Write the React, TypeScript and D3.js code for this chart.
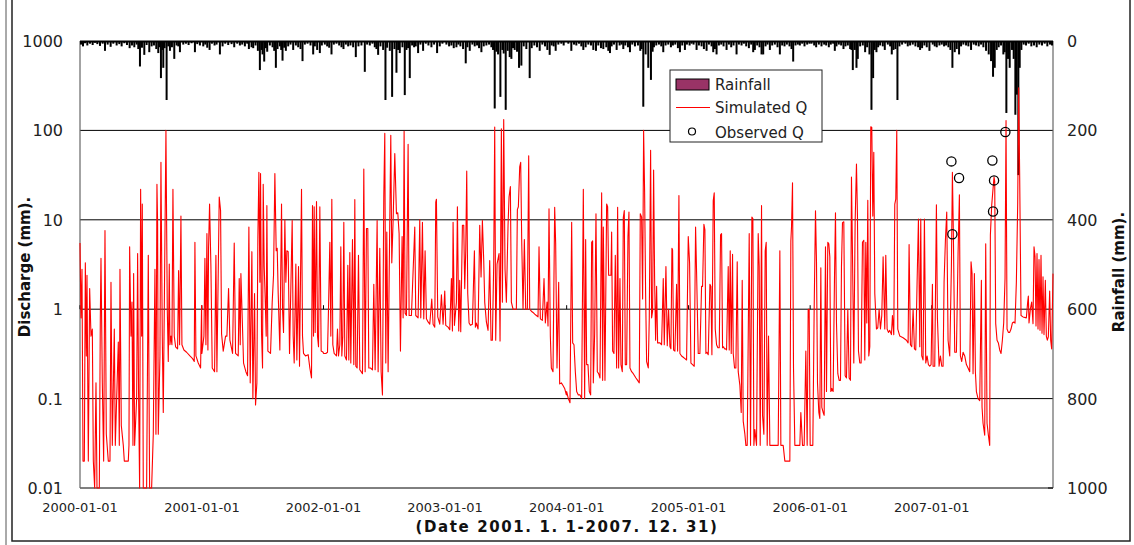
import * as d3 from 'd3';

// chart frame
const W = 1134;
const H = 545;
const plot = { left: 80, right: 1053, top: 41, bottom: 488 };

const xTickLabels = ['2000-01-01', '2001-01-01', '2002-01-01', '2003-01-01', '2004-01-01', '2005-01-01', '2006-01-01', '2007-01-01'];
const qTicks = [0.01, 0.1, 1, 10, 100, 1000];
const qTickLabels = ['0.01', '0.1', '1', '10', '100', '1000'];
const rainTicks = [0, 200, 400, 600, 800, 1000];

// simulated discharge (mm) : [day since 2000-01-01, value]
const q2000: [number, number][] = [
  [0, 5.5], [3, 0.8], [6, 2.8], [9, 0.02], [13, 0.02], [16, 3.3], [19, 0.3], [21, 2.4], [25, 0.02], [29, 1.7], [33, 0.5], [37, 0.6], [40, 0.02], [44, 0.01], [48, 0.15], [51, 0.01], [58, 0.01], [61, 0.8], [63, 3.7], [67, 0.15], [71, 0.02], [75, 7.6], [79, 0.04], [85, 0.02], [90, 0.02], [93, 2.0], [97, 0.03], [103, 0.6], [106, 0.03], [115, 0.43], [118, 0.03], [120, 2.8], [124, 0.05], [130, 0.03], [133, 0.02], [145, 0.02], [147, 0.03], [149, 5], [153, 0.5], [156, 1.2], [159, 0.03], [161, 2.5], [164, 0.03], [170, 0.1], [173, 4.2], [176, 0.1], [179, 0.01], [182, 22], [185, 0.5], [187, 15], [190, 0.01], [200, 0.01], [205, 4], [209, 0.01], [215, 0.01], [220, 0.04], [225, 2.8], [228, 0.04], [231, 25], [233, 9], [235, 0.04], [240, 0.3], [243, 44], [247, 0.5], [250, 0.07], [253, 1.0], [258, 100], [262, 1.0], [265, 0.26], [268, 3.2], [270, 0.4], [273, 0.5], [276, 0.4], [279, 22], [283, 0.5], [287, 0.38], [293, 0.36], [296, 2.7], [299, 0.4], [303, 11], [306, 0.4], [312, 0.35], [320, 0.33], [330, 0.3], [338, 0.28], [343, 0.26], [345, 5.6], [348, 0.3], [355, 0.25], [362, 0.22], [365, 1.1],
];
const q2001: [number, number][] = [
  [366, 0.32], [372, 0.5], [375, 3.7], [378, 0.4], [381, 7], [384, 0.35], [386, 5], [389, 15], [393, 3], [397, 0.22], [404, 0.2], [408, 4], [411, 0.2], [418, 18], [422, 12.7], [425, 0.53], [430, 0.34], [437, 0.5], [441, 0.5], [446, 1.7], [450, 0.45], [458, 0.32], [463, 5.5], [467, 0.32], [475, 0.3], [478, 2.2], [481, 0.4], [483, 2.5], [487, 0.8], [491, 0.25], [498, 0.2], [503, 0.18], [507, 8.3], [511, 0.15], [516, 4.4], [519, 0.1], [524, 1.5], [527, 0.085], [531, 0.15], [534, 6.4], [537, 34], [540, 2], [542, 33], [545, 0.53], [548, 0.22], [550, 25], [553, 3], [556, 1.3], [559, 0.5], [561, 14.4], [564, 0.34], [572, 0.32], [577, 1.2], [581, 2.4], [585, 33], [589, 4.5], [592, 4.8], [595, 1.5], [600, 0.35], [605, 15], [608, 1], [611, 0.55], [615, 10], [618, 2], [621, 4.5], [625, 4.4], [629, 0.32], [637, 9.8], [640, 0.5], [643, 0.25], [648, 3.2], [651, 0.27], [656, 3], [659, 0.23], [665, 22], [668, 0.5], [671, 0.32], [677, 0.3], [685, 0.31], [690, 0.22], [695, 0.17], [698, 14.4], [701, 0.5], [703, 14], [706, 0.55], [710, 16], [713, 0.5], [716, 0.38], [720, 14], [724, 0.34], [730, 0.33],
];
const q2002: [number, number][] = [
  [731, 0.32], [738, 0.32], [743, 0.33], [746, 1.0], [750, 5.6], [753, 0.5], [756, 17], [759, 0.4], [763, 0.32], [770, 0.3], [773, 0.6], [776, 0.3], [780, 0.4], [783, 5], [786, 0.3], [789, 0.5], [792, 9.4], [795, 0.3], [800, 0.27], [804, 3.1], [807, 0.27], [810, 4.3], [813, 0.25], [818, 6], [822, 0.24], [825, 16.8], [828, 0.23], [832, 0.22], [836, 4], [840, 0.21], [844, 0.2], [848, 0.19], [852, 37], [856, 0.2], [860, 8], [864, 8], [867, 0.22], [872, 0.22], [878, 0.21], [882, 1.9], [886, 0.21], [892, 9.8], [895, 0.2], [900, 4.8], [904, 0.2], [908, 0.11], [912, 18.7], [915, 93], [918, 0.25], [921, 7.3], [925, 0.2], [930, 9.8], [933, 88], [936, 3.3], [940, 9.8], [945, 55], [950, 11.7], [954, 12], [958, 7], [962, 0.34], [967, 6.5], [970, 0.8], [973, 98], [976, 0.9], [980, 0.85], [985, 70], [988, 0.85], [995, 0.85], [1005, 8.3], [1008, 0.85], [1015, 0.8], [1020, 10], [1023, 0.8], [1028, 9.4], [1032, 0.78], [1036, 4.5], [1040, 0.78], [1045, 0.72], [1050, 0.68], [1056, 1.3], [1060, 0.68], [1065, 0.63], [1068, 15.8], [1070, 17], [1074, 0.82], [1080, 0.68], [1085, 1.45], [1090, 0.68], [1095, 1.6],
];
const q2003: [number, number][] = [
  [1098, 0.66], [1105, 0.63], [1110, 0.59], [1115, 2.2], [1118, 0.57], [1120, 9.4], [1124, 0.66], [1130, 1.2], [1133, 14], [1137, 0.57], [1140, 2.1], [1143, 0.56], [1148, 8.7], [1152, 8.7], [1155, 1.7], [1158, 4.5], [1161, 35], [1164, 1.5], [1168, 0.7], [1172, 0.66], [1178, 0.68], [1184, 4.5], [1187, 0.63], [1190, 0.7], [1195, 0.6], [1200, 8.7], [1204, 2.3], [1208, 9.8], [1212, 3.5], [1215, 1.2], [1220, 0.72], [1225, 0.58], [1230, 3.5], [1234, 0.45], [1238, 0.45], [1242, 3.2], [1245, 109], [1248, 0.45], [1252, 3.2], [1258, 4.2], [1261, 0.44], [1265, 104], [1268, 1.2], [1272, 132], [1276, 2.8], [1280, 1.2], [1285, 8.7], [1288, 18], [1292, 23.6], [1295, 1.2], [1300, 1.0], [1305, 1.0], [1310, 1.0], [1313, 13], [1316, 14], [1320, 39], [1323, 44], [1326, 6], [1330, 1.0], [1334, 6], [1338, 1.0], [1343, 1.0], [1347, 52], [1350, 1.0], [1355, 0.95], [1360, 0.92], [1365, 0.88], [1370, 0.85], [1375, 0.82], [1378, 5], [1382, 0.78], [1388, 0.75], [1393, 2.2], [1397, 0.7], [1402, 1.2], [1405, 0.65], [1408, 13.3], [1412, 0.5], [1415, 0.22], [1420, 0.2], [1425, 13.8], [1428, 5.4], [1432, 0.22], [1437, 2], [1440, 0.146], [1445, 0.15], [1450, 0.14], [1455, 0.13], [1460, 0.11],
];
const q2004: [number, number][] = [
  [1461, 0.12], [1466, 0.1], [1471, 0.09], [1476, 9.4], [1479, 0.42], [1483, 0.4], [1487, 0.2], [1491, 0.12], [1496, 0.11], [1501, 0.11], [1506, 0.1], [1511, 22], [1515, 0.1], [1518, 6], [1521, 0.24], [1525, 0.24], [1529, 0.12], [1533, 0.11], [1536, 5.6], [1539, 5.8], [1541, 0.15], [1545, 0.53], [1549, 11.7], [1553, 0.2], [1557, 0.19], [1561, 0.17], [1566, 20], [1569, 0.16], [1571, 8.3], [1576, 0.16], [1581, 15], [1584, 14], [1587, 2.4], [1591, 2.4], [1594, 2.4], [1596, 7.3], [1599, 0.34], [1603, 0.32], [1607, 4], [1611, 0.22], [1614, 13.8], [1617, 0.22], [1621, 2.2], [1624, 0.24], [1628, 0.2], [1631, 10.6], [1634, 12.7], [1637, 0.24], [1641, 0.24], [1645, 6.5], [1648, 12.2], [1651, 0.22], [1656, 0.2], [1661, 0.19], [1669, 0.17], [1674, 0.16], [1679, 0.15], [1682, 11.7], [1686, 10.7], [1689, 1.3], [1692, 100], [1695, 20.5], [1698, 1.5], [1701, 0.26], [1706, 0.22], [1709, 0.8], [1713, 60], [1716, 0.8], [1719, 0.95], [1722, 36], [1725, 2.2], [1728, 0.45], [1731, 1.8], [1734, 0.42], [1741, 0.42], [1746, 0.4], [1751, 2.2], [1754, 0.4], [1759, 3], [1763, 0.39], [1767, 1.0], [1771, 0.38], [1774, 0.36], [1777, 4.8], [1779, 4.6], [1782, 0.35], [1786, 0.34], [1791, 1.9], [1794, 0.34], [1798, 18.7], [1801, 0.32], [1806, 0.3], [1811, 0.29], [1816, 0.28], [1821, 0.27], [1826, 6.5],
];
const q2005: [number, number][] = [
  [1830, 3.3], [1834, 0.25], [1839, 0.24], [1844, 0.23], [1848, 8.3], [1851, 2.6], [1856, 0.32], [1861, 0.32], [1866, 1.8], [1869, 1.8], [1873, 8.9], [1876, 7.7], [1879, 0.32], [1882, 0.33], [1886, 0.31], [1891, 1.9], [1894, 1.8], [1897, 0.31], [1901, 16.4], [1904, 20], [1907, 0.6], [1911, 0.4], [1915, 0.37], [1919, 0.37], [1923, 6.8], [1926, 7], [1929, 0.37], [1932, 0.38], [1935, 0.36], [1938, 0.36], [1941, 0.35], [1946, 3], [1949, 0.35], [1952, 4.5], [1955, 0.32], [1959, 4.1], [1961, 0.32], [1965, 0.22], [1969, 0.22], [1973, 3.4], [1976, 0.2], [1981, 0.14], [1985, 0.07], [1988, 2.1], [1991, 0.056], [1996, 0.04], [1999, 0.03], [2003, 0.03], [2009, 7], [2013, 0.03], [2017, 10.7], [2020, 10.3], [2023, 0.03], [2026, 0.045], [2031, 0.03], [2036, 7], [2039, 3], [2042, 0.03], [2046, 14.4], [2049, 0.065], [2053, 0.04], [2057, 4.5], [2060, 5.6], [2063, 0.03], [2067, 0.5], [2071, 0.03], [2081, 0.03], [2091, 0.03], [2096, 0.03], [2101, 4.5], [2104, 0.03], [2111, 0.03], [2116, 0.02], [2126, 0.02], [2131, 0.02], [2134, 5.8], [2136, 8.3], [2139, 26], [2142, 0.22], [2146, 0.03], [2156, 0.03], [2161, 0.03], [2164, 0.07], [2169, 0.03], [2174, 0.03], [2179, 0.34], [2183, 0.03], [2186, 1.0], [2189, 1.0],
];
const q2006: [number, number][] = [
  [2192, 0.03], [2200, 0.03], [2204, 1.0], [2208, 12.6], [2211, 3.4], [2214, 0.15], [2218, 0.07], [2221, 0.06], [2224, 2.9], [2227, 0.08], [2231, 0.07], [2234, 0.065], [2238, 5], [2241, 0.12], [2245, 5.6], [2248, 5.4], [2251, 3.85], [2254, 0.12], [2257, 0.13], [2261, 0.12], [2265, 2.2], [2268, 12], [2271, 0.7], [2275, 0.19], [2279, 0.16], [2283, 0.16], [2286, 3], [2289, 9.3], [2293, 9.5], [2297, 0.18], [2301, 0.17], [2305, 1], [2309, 0.17], [2313, 0.16], [2316, 30], [2319, 4.2], [2323, 0.25], [2327, 9.3], [2331, 42], [2334, 11], [2337, 0.34], [2341, 0.25], [2345, 0.25], [2349, 5.6], [2353, 5.9], [2356, 0.27], [2359, 5.6], [2362, 0.7], [2365, 16.5], [2368, 0.3], [2371, 0.38], [2374, 110], [2377, 108], [2380, 11], [2383, 57], [2386, 1.5], [2391, 0.6], [2395, 0.62], [2399, 1.0], [2403, 0.6], [2407, 0.85], [2411, 3.85], [2416, 0.6], [2419, 4], [2423, 0.6], [2427, 0.55], [2431, 0.58], [2436, 0.52], [2439, 0.85], [2443, 0.52], [2446, 15], [2449, 17], [2452, 100], [2455, 0.6], [2461, 0.5], [2471, 0.48], [2481, 0.45], [2486, 0.42], [2489, 5.3], [2493, 0.4], [2497, 0.38], [2501, 1.0], [2505, 0.36], [2509, 0.35], [2513, 2], [2517, 10.2], [2521, 0.38], [2524, 10.2], [2527, 0.3], [2531, 0.27], [2535, 10.2], [2539, 0.25], [2543, 0.3], [2547, 0.24], [2551, 0.23], [2555, 0.24],
];
const q2007: [number, number][] = [
  [2559, 1.9], [2561, 0.23], [2566, 0.23], [2571, 14.7], [2574, 0.8], [2579, 0.23], [2583, 0.3], [2587, 0.23], [2591, 0.23], [2594, 2], [2598, 5.9], [2602, 12.2], [2606, 0.45], [2611, 0.3], [2616, 3], [2619, 34], [2622, 6.5], [2626, 0.33], [2631, 0.33], [2636, 4.2], [2640, 19], [2643, 0.3], [2647, 0.26], [2651, 0.33], [2656, 0.3], [2661, 0.24], [2666, 0.22], [2671, 0.2], [2675, 3.4], [2678, 2.5], [2681, 0.19], [2685, 2.5], [2688, 0.2], [2691, 0.12], [2696, 0.1], [2701, 0.095], [2706, 2.1], [2708, 0.08], [2711, 0.053], [2716, 0.039], [2719, 5.4], [2723, 0.053], [2727, 0.039], [2731, 0.03], [2733, 6.7], [2737, 14.6], [2740, 20], [2744, 30], [2746, 27], [2749, 0.69], [2753, 0.45], [2757, 0.42], [2761, 0.35], [2765, 0.32], [2769, 0.45], [2773, 0.7], [2777, 2.2], [2780, 129], [2783, 0.6], [2787, 0.55], [2791, 0.55], [2795, 0.6], [2799, 0.7], [2803, 0.72], [2807, 0.7], [2811, 2], [2815, 15], [2818, 300], [2821, 30], [2825, 0.85], [2831, 0.82], [2841, 0.8], [2845, 1.2], [2847, 1.4], [2849, 0.7], [2853, 1.0], [2857, 1.2], [2861, 0.69], [2864, 5], [2867, 3.9], [2870, 0.65], [2873, 4.2], [2876, 0.6], [2879, 3.6], [2882, 0.58], [2885, 4], [2888, 0.54], [2891, 2.3], [2894, 0.52], [2898, 2.1], [2901, 0.5], [2904, 0.45], [2907, 0.49], [2911, 1.6], [2914, 0.45], [2917, 0.36], [2921, 2.5],
];

// observed discharge (mm)
const observedQ: [number, number][] = [
  [2616, 45], [2619, 6.9], [2639, 29.3], [2739, 46], [2741, 12.4], [2744, 27.6], [2778, 96],
];

// daily rainfall (mm) : [day since 2000-01-01, mm]
const rain2000: [number, number][] = [
  [3, 8], [9, 12], [15, 5], [22, 10], [30, 6], [38, 9], [45, 4], [52, 7], [60, 11], [68, 6], [75, 22], [83, 8], [92, 13], [100, 6], [110, 10], [118, 7], [125, 12], [133, 5], [141, 9], [149, 16], [156, 10], [163, 14], [170, 8], [175, 18], [180, 57], [186, 15], [193, 31], [200, 9], [208, 25], [215, 12], [222, 10], [229, 18], [235, 27], [240, 14], [243, 83], [247, 20], [250, 60], [254, 16], [260, 132], [265, 12], [270, 22], [276, 14], [283, 40], [290, 10], [295, 12], [300, 25], [310, 8], [318, 6], [326, 9], [335, 5], [345, 25], [352, 7], [360, 10],
];
const rain2001: [number, number][] = [
  [370, 12], [376, 8], [382, 15], [389, 20], [396, 6], [404, 10], [410, 8], [420, 30], [428, 12], [436, 6], [445, 9], [455, 7], [463, 14], [472, 6], [480, 10], [487, 8], [495, 12], [502, 6], [507, 18], [515, 14], [520, 16], [527, 10], [534, 22], [540, 65], [545, 20], [548, 30], [553, 46], [558, 16], [562, 24], [570, 10], [578, 14], [583, 22], [588, 60], [593, 18], [600, 12], [604, 20], [608, 44], [613, 15], [618, 22], [625, 12], [632, 8], [640, 20], [648, 10], [655, 14], [662, 18], [668, 45], [675, 8], [683, 6], [692, 10], [700, 30], [705, 12], [712, 20], [720, 27], [726, 10],
];
const rain2002: [number, number][] = [
  [735, 8], [742, 12], [748, 15], [755, 30], [762, 8], [770, 6], [778, 10], [785, 14], [791, 18], [798, 8], [805, 12], [812, 10], [820, 14], [828, 36], [836, 12], [845, 10], [855, 69], [862, 8], [870, 10], [878, 6], [885, 14], [890, 18], [895, 31], [902, 12], [910, 20], [917, 132], [922, 15], [930, 22], [937, 125], [944, 18], [950, 71], [955, 20], [960, 27], [968, 14], [975, 121], [980, 20], [985, 16], [990, 83], [997, 10], [1003, 14], [1008, 12], [1015, 27], [1022, 8], [1030, 22], [1038, 6], [1046, 10], [1055, 14], [1063, 8], [1072, 27], [1080, 12], [1088, 6],
];
const rain2003: [number, number][] = [
  [1100, 8], [1108, 12], [1115, 10], [1122, 16], [1130, 14], [1136, 8], [1142, 12], [1150, 18], [1158, 50], [1163, 14], [1170, 22], [1178, 8], [1185, 12], [1192, 10], [1198, 16], [1205, 25], [1212, 12], [1220, 10], [1228, 8], [1235, 14], [1240, 20], [1245, 151], [1250, 24], [1255, 30], [1262, 125], [1268, 20], [1272, 28], [1278, 154], [1284, 22], [1290, 36], [1295, 40], [1300, 16], [1305, 20], [1312, 24], [1318, 60], [1325, 55], [1332, 12], [1340, 18], [1350, 83], [1356, 16], [1364, 10], [1372, 14], [1380, 22], [1388, 8], [1396, 12], [1403, 20], [1410, 31], [1416, 10], [1422, 12], [1428, 22], [1436, 8], [1445, 6], [1452, 10],
];
const rain2004: [number, number][] = [
  [1466, 6], [1475, 22], [1483, 8], [1490, 10], [1498, 6], [1505, 12], [1511, 20], [1518, 14], [1526, 8], [1534, 10], [1541, 20], [1549, 22], [1556, 10], [1564, 16], [1571, 18], [1580, 14], [1586, 22], [1591, 27], [1596, 12], [1603, 8], [1611, 20], [1620, 10], [1626, 8], [1631, 18], [1637, 10], [1645, 14], [1651, 25], [1658, 8], [1666, 12], [1675, 10], [1682, 22], [1686, 18], [1691, 147], [1698, 30], [1706, 60], [1714, 87], [1719, 24], [1723, 14], [1730, 10], [1738, 8], [1745, 12], [1751, 25], [1758, 10], [1766, 8], [1774, 14], [1780, 10], [1787, 8], [1795, 16], [1801, 25], [1808, 10], [1816, 20], [1822, 8],
];
const rain2005: [number, number][] = [
  [1830, 10], [1836, 6], [1842, 8], [1851, 20], [1858, 10], [1866, 12], [1873, 18], [1881, 22], [1888, 8], [1896, 12], [1901, 25], [1906, 18], [1911, 30], [1918, 10], [1925, 8], [1932, 12], [1941, 20], [1948, 8], [1955, 14], [1962, 10], [1971, 30], [1978, 8], [1986, 10], [1993, 6], [2000, 12], [2008, 16], [2015, 8], [2021, 25], [2026, 20], [2033, 10], [2040, 14], [2046, 30], [2051, 30], [2058, 12], [2064, 8], [2071, 20], [2078, 10], [2086, 8], [2094, 14], [2101, 30], [2108, 10], [2115, 12], [2122, 8], [2130, 12], [2136, 18], [2141, 46], [2148, 10], [2155, 8], [2161, 10], [2168, 6], [2175, 12], [2183, 8], [2190, 6],
];
const rain2006: [number, number][] = [
  [2196, 6], [2204, 10], [2210, 14], [2218, 8], [2226, 12], [2234, 8], [2240, 10], [2248, 14], [2254, 8], [2261, 6], [2266, 22], [2271, 12], [2278, 8], [2285, 10], [2292, 18], [2298, 12], [2305, 10], [2312, 18], [2316, 20], [2320, 65], [2326, 20], [2331, 60], [2335, 40], [2342, 12], [2350, 10], [2357, 25], [2363, 14], [2370, 30], [2376, 154], [2381, 83], [2386, 20], [2391, 25], [2396, 14], [2402, 10], [2410, 12], [2416, 20], [2425, 8], [2432, 12], [2437, 30], [2442, 20], [2448, 18], [2454, 132], [2460, 12], [2468, 8], [2478, 6], [2485, 12], [2492, 10], [2500, 8], [2508, 12], [2516, 14], [2522, 20], [2528, 16], [2535, 10], [2542, 14], [2550, 22],
];
const rain2007: [number, number][] = [
  [2560, 8], [2566, 12], [2572, 14], [2580, 10], [2587, 8], [2594, 12], [2600, 10], [2607, 14], [2613, 20], [2619, 60], [2626, 25], [2632, 18], [2639, 30], [2645, 12], [2652, 8], [2660, 10], [2667, 12], [2675, 20], [2683, 8], [2690, 10], [2698, 12], [2705, 8], [2712, 14], [2720, 22], [2728, 30], [2735, 45], [2741, 80], [2746, 60], [2752, 20], [2758, 14], [2765, 10], [2772, 30], [2776, 25], [2781, 161], [2786, 40], [2791, 60], [2798, 20], [2803, 40], [2808, 165], [2812, 120], [2817, 300], [2821, 60], [2826, 20], [2833, 8], [2840, 10], [2848, 6], [2856, 12], [2864, 10], [2872, 14], [2880, 8], [2888, 10], [2896, 6], [2904, 12], [2912, 8], [2918, 10],
];

const simulatedQ = [...q2000, ...q2001, ...q2002, ...q2003, ...q2004, ...q2005, ...q2006, ...q2007];
const rainfall = [...rain2000, ...rain2001, ...rain2002, ...rain2003, ...rain2004, ...rain2005, ...rain2006, ...rain2007];

const t0 = new Date(Date.UTC(2000, 0, 1));
const toDate = (d: number) => d3.utcDay.offset(t0, d);
const parse = d3.utcParse('%Y-%m-%d');

const font = '"DejaVu Sans", sans-serif';

const App = () => {
  const x = d3.scaleUtc().domain([t0, new Date(Date.UTC(2007, 11, 31))]).range([plot.left, plot.right]);
  const y = d3.scaleLog().domain([0.01, 1000]).range([plot.bottom, plot.top]);
  const yRain = d3.scaleLinear().domain([0, 1000]).range([plot.top, plot.bottom]);
  const clampQ = (v: number) => Math.max(0.01, Math.min(1000, v));

  const line = d3
    .line<[number, number]>()
    .x((d) => x(toDate(d[0])))
    .y((d) => y(clampQ(d[1])));

  return (
    <svg width={W} height={H} style={{ position: 'absolute', left: 0, top: 0, background: '#fff' }}>
      {/* outer frame */}
      <line x1={6} x2={6} y1={0} y2={H} stroke="#555" strokeWidth={1} />
      <rect x={12} y={-5} width={1118} height={546} fill="none" stroke="#222" strokeWidth={1.5} />

      {/* grid lines */}
      {qTicks.slice(1, -1).map((t) => (
        <line key={t} x1={plot.left} x2={plot.right} y1={y(t)} y2={y(t)} stroke="#000" strokeWidth={1} />
      ))}
      <line x1={plot.left} x2={plot.right} y1={plot.bottom} y2={plot.bottom} stroke="#000" strokeWidth={1} />
      <line x1={plot.left} x2={plot.left} y1={plot.top} y2={plot.bottom} stroke="#666" strokeWidth={1.2} />
      <line x1={plot.right} x2={plot.right} y1={plot.top} y2={plot.bottom} stroke="#666" strokeWidth={1.2} />
      {xTickLabels.map((l) => (
        <line key={l} x1={x(parse(l)!)} x2={x(parse(l)!)} y1={y(1) - 4} y2={y(1)} stroke="#000" />
      ))}
      <line x1={plot.right - 5} x2={plot.right} y1={plot.bottom} y2={plot.bottom} stroke="#000" />

      {/* rainfall bars hanging from top */}
      {rainfall.map((d, i) => (
        <rect key={i} x={x(toDate(d[0])) - 1} y={plot.top} width={2} height={yRain(d[1]) - plot.top} fill="#000" />
      ))}
      <line x1={plot.left} x2={plot.right} y1={plot.top + 0.5} y2={plot.top + 0.5} stroke="#000" strokeWidth={2} />

      {/* simulated Q */}
      <path d={line(simulatedQ) || ''} fill="none" stroke="#ff0000" strokeWidth={1.1} strokeLinejoin="round" />

      {/* observed Q */}
      {observedQ.map((d, i) => (
        <circle key={i} cx={x(toDate(d[0]))} cy={y(d[1])} r={4.6} fill="none" stroke="#000" strokeWidth={1.3} />
      ))}

      {/* left axis labels */}
      {qTicks.map((t, i) => (
        <text key={t} x={63} y={y(t) + 6} textAnchor="end" fontFamily={font} fontSize={16} fill="#222">
          {qTickLabels[i]}
        </text>
      ))}
      {/* right axis labels */}
      {rainTicks.map((t) => (
        <text key={t} x={1067} y={yRain(t) + 6} textAnchor="start" fontFamily={font} fontSize={16} fill="#222">
          {t}
        </text>
      ))}
      {/* x labels */}
      {xTickLabels.map((l) => (
        <text key={l} x={x(parse(l)!)} y={512} textAnchor="middle" fontFamily={font} fontSize={13} fill="#222">
          {l}
        </text>
      ))}
      <text x={567} y={532} textAnchor="middle" fontFamily={font} fontSize={15} fontWeight="bold" letterSpacing={1.6} fill="#111">
        (Date 2001. 1. 1-2007. 12. 31)
      </text>
      <text transform="translate(30,267) rotate(-90)" textAnchor="middle" fontFamily={font} fontSize={15} fontWeight="bold" fill="#111">
        Discharge (mm).
      </text>
      <text transform="translate(1124,272) rotate(-90)" textAnchor="middle" fontFamily={font} fontSize={15} fontWeight="bold" fill="#111">
        Rainfall (mm).
      </text>

      {/* legend */}
      <g>
        <rect x={670} y={70} width={152} height={72} fill="#fff" stroke="#222" strokeWidth={1} />
        <rect x={676} y={79} width={33} height={11} fill="#993366" stroke="#000" strokeWidth={1} />
        <text x={715} y={90} fontFamily={font} fontSize={15} fill="#222">Rainfall</text>
        <line x1={676} x2={710} y1={107.5} y2={107.5} stroke="#ff0000" strokeWidth={1.2} />
        <text x={715} y={113} fontFamily={font} fontSize={15} fill="#222">Simulated Q</text>
        <circle cx={692} cy={131.5} r={3.5} fill="none" stroke="#000" strokeWidth={1.2} />
        <text x={715} y={137.5} fontFamily={font} fontSize={15} fill="#222">Observed Q</text>
      </g>
    </svg>
  );
};

export default App;
